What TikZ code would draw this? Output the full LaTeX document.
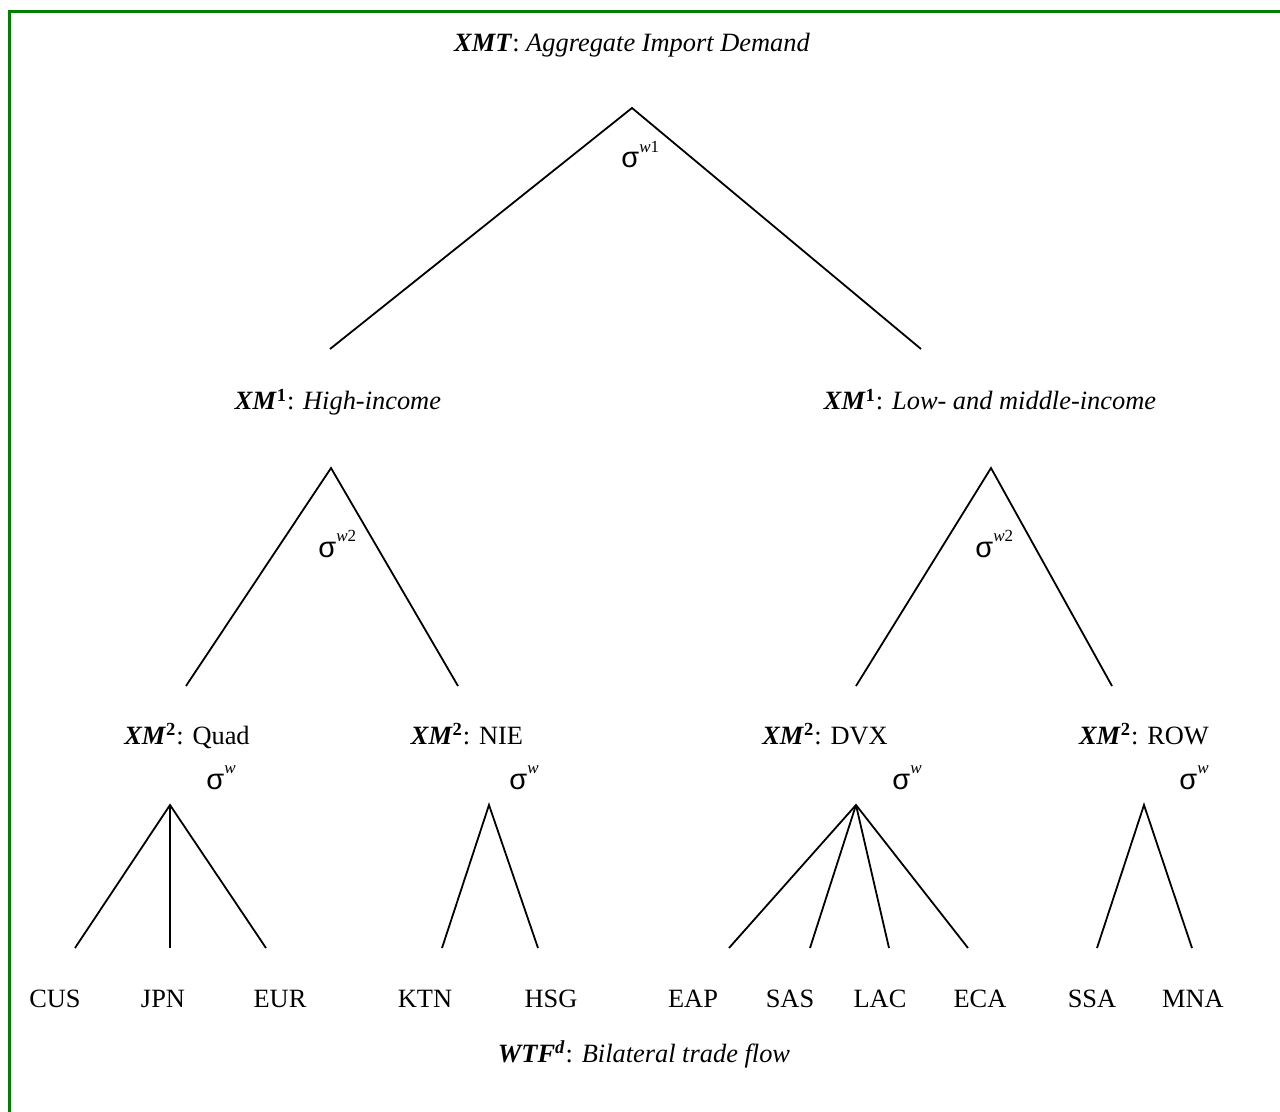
\documentclass[tikz,border=0pt]{standalone}
\usepackage{fontspec}
\setmainfont{Liberation Serif}
\newfontfamily\sgfont{Liberation Sans}
\definecolor{bordergreen}{RGB}{0,128,0}
\newcommand{\sigw}[1]{{\sgfont σ}\raisebox{0.55em}{\fontsize{8.5}{9}\selectfont\textit{w}#1}}
\newcommand{\xmb}[1]{\textbf{\textit{XM}}\textsuperscript{\textbf{#1}}}
\begin{document}
\begin{tikzpicture}[x=0.5pt,y=-0.5pt,
  lbl/.style={font=\fontsize{13.2}{15}\selectfont, inner sep=0pt, anchor=base},
  sig/.style={font=\fontsize{14.5}{16}\selectfont, inner sep=0pt, anchor=base west},
  branch/.style={black, line width=0.9pt}]
\useasboundingbox (0,0) rectangle (1280,1112);
\draw[bordergreen, line width=1.6pt] (9.5,1112) -- (9.5,11.5) -- (1280,11.5);

% labels
\node[lbl] (xmt) at (632,52) {\textbf{\textit{XMT}}: \textit{Aggregate Import Demand}};
\node[lbl] (hi) at (338,410) {\xmb{1}: \textit{High-income}};
\node[lbl] (lo) at (990,410) {\xmb{1}: \textit{Low- and middle-income}};
\node[lbl] (quad) at (187,744) {\xmb{2}: Quad};
\node[lbl] (nie) at (467,744) {\xmb{2}: NIE};
\node[lbl] (dvx) at (825,744) {\xmb{2}: DVX};
\node[lbl] (row) at (1144,744) {\xmb{2}: ROW};
\node[lbl] (cus) at (55,1007) {CUS};
\node[lbl] (jpn) at (163,1007) {JPN};
\node[lbl] (eur) at (280,1007) {EUR};
\node[lbl] (ktn) at (425,1007) {KTN};
\node[lbl] (hsg) at (551,1007) {HSG};
\node[lbl] (eap) at (693,1007) {EAP};
\node[lbl] (sas) at (790,1007) {SAS};
\node[lbl] (lac) at (880,1007) {LAC};
\node[lbl] (eca) at (980,1007) {ECA};
\node[lbl] (ssa) at (1092,1007) {SSA};
\node[lbl] (mna) at (1193,1007) {MNA};
\node[lbl] (wtf) at (644,1062) {\textbf{\textit{WTF}}\textsuperscript{\textbf{\textit{d}}}: \textit{Bilateral trade flow}};

% sigma labels
\node[sig] (s1) at (621,168) {\sigw{1}};
\node[sig] (s2a) at (318,557) {\sigw{2}};
\node[sig] (s2b) at (975,557) {\sigw{2}};
\node[sig] (s3a) at (206,789) {\sigw{}};
\node[sig] (s3b) at (509,789) {\sigw{}};
\node[sig] (s3c) at (892,789) {\sigw{}};
\node[sig] (s3d) at (1179,789) {\sigw{}};

% apex and end coordinates
\coordinate (a0) at (632,108);
\coordinate (e0l) at (330,349);
\coordinate (e0r) at (921,349);
\coordinate (a1) at (331,468);
\coordinate (e1l) at (186,686);
\coordinate (e1r) at (458,686);
\coordinate (a2) at (991,468);
\coordinate (e2l) at (856,686);
\coordinate (e2r) at (1112,686);
\coordinate (aq) at (170,805);
\coordinate (eq1) at (75,948);
\coordinate (eq2) at (170,948);
\coordinate (eq3) at (266,948);
\coordinate (an) at (489,805);
\coordinate (en1) at (442,948);
\coordinate (en2) at (538,948);
\coordinate (ad) at (856,805);
\coordinate (ed1) at (729,948);
\coordinate (ed2) at (810,948);
\coordinate (ed3) at (889,948);
\coordinate (ed4) at (968,948);
\coordinate (ar) at (1144,805);
\coordinate (er1) at (1097,948);
\coordinate (er2) at (1192,948);

\draw[branch] (e0l) -- (a0) -- (e0r);
\draw[branch] (e1l) -- (a1) -- (e1r);
\draw[branch] (e2l) -- (a2) -- (e2r);
\draw[branch] (eq1) -- (aq) -- (eq3);
\draw[branch] (aq) -- (eq2);
\draw[branch] (en1) -- (an) -- (en2);
\draw[branch] (ed1) -- (ad) -- (ed4);
\draw[branch] (ad) -- (ed2);
\draw[branch] (ad) -- (ed3);
\draw[branch] (er1) -- (ar) -- (er2);
\end{tikzpicture}
\end{document}
